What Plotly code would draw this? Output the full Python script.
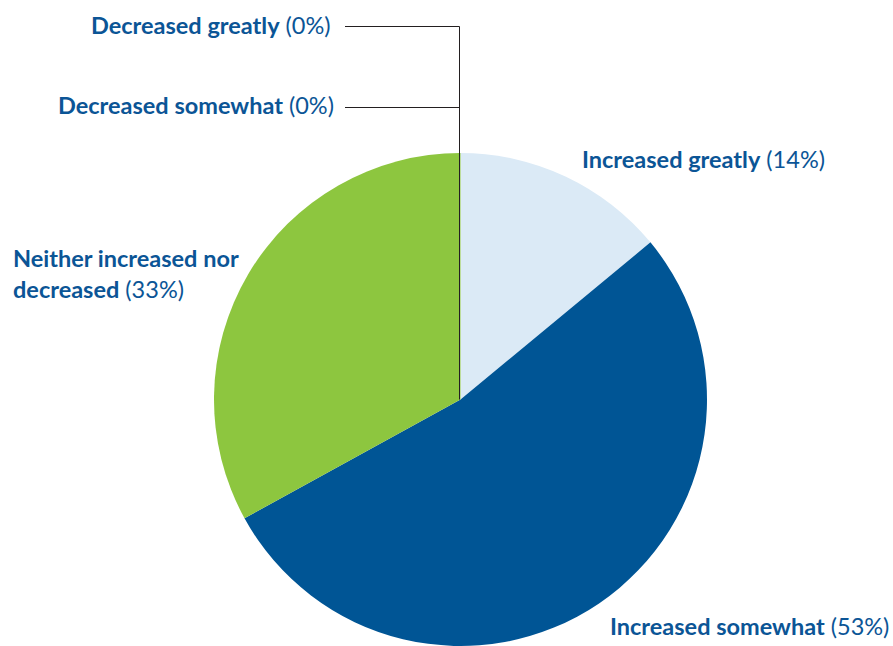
import plotly.graph_objects as go

# Survey responses, in drawing order (clockwise from 12 o'clock)
labels = ["Increased greatly", "Increased somewhat", "Neither increased nor decreased",
          "Decreased somewhat", "Decreased greatly"]
values = [14, 53, 33, 0, 0]
colors = ["#dbeaf6", "#005595", "#8dc63f", "#005595", "#005595"]

W, H = 893, 646
TEXT_COLOR = "#0b5596"
FONT = "Lato"
FONT_SIZE = 23.5

# Pie placement in pixels (top of pie and radius), converted to paper domain
cx_px, top_px, r_px = 460.5, 153, 246.5
dom_x = [(cx_px - r_px) / W, (cx_px + r_px) / W]
dom_y = [(H - (top_px + 2 * r_px)) / H, (H - top_px) / H]

fig = go.Figure(go.Pie(
    labels=labels,
    values=values,
    marker=dict(colors=colors, line=dict(width=0)),
    sort=False,
    direction="clockwise",
    rotation=0,
    textinfo="none",
    hoverinfo="label+percent",
    domain=dict(x=dom_x, y=dom_y),
))


def label_text(name, val, split_at=None):
    if split_at:
        first, rest = name[:split_at].rstrip(), name[split_at:].strip()
        return f"<b>{first}</b><br><b>{rest}</b> ({val}%)"
    return f"<b>{name}</b> ({val}%)"


def px(x, y):
    return x / W, 1 - y / H


# label anchor points (pixels) and alignment
placements = {
    "Increased greatly": (580, 159, "left"),
    "Increased somewhat": (608, 626, "left"),
    "Neither increased nor decreased": (11, 273, "left"),
    "Decreased somewhat": (336, 105, "right"),
    "Decreased greatly": (333, 25, "right"),
}

annotations = []
for name, val in zip(labels, values):
    x, y, anchor = placements[name]
    split = len("Neither increased nor") if name.startswith("Neither") else None
    ax, ay = px(x, y)
    annotations.append(dict(
        x=ax, y=ay, xref="paper", yref="paper",
        xanchor=anchor, yanchor="middle", align="left",
        text=label_text(name, val, split),
        showarrow=False,
        font=dict(family=FONT, size=FONT_SIZE, color=TEXT_COLOR),
    ))

# Leader lines for the zero-value slices, running up from the pie centre
# (offset by half a pixel so the 1px strokes stay crisp)
cx_paper = (dom_x[0] + dom_x[1]) / 2 - 1.0 / W
cy_paper = (dom_y[0] + dom_y[1]) / 2
top_y = px(0, 26.5)[1]
mid_y = px(0, 107.5)[1]
line_style = dict(color="#231f20", width=1)
shapes = [
    dict(type="line", xref="paper", yref="paper",
         x0=cx_paper, x1=cx_paper, y0=cy_paper, y1=top_y, line=line_style),
    dict(type="line", xref="paper", yref="paper",
         x0=px(345, 0)[0], x1=cx_paper, y0=top_y, y1=top_y, line=line_style),
    dict(type="line", xref="paper", yref="paper",
         x0=px(345, 0)[0], x1=cx_paper, y0=mid_y, y1=mid_y, line=line_style),
]

fig.update_layout(
    width=W, height=H,
    margin=dict(l=0, r=0, t=0, b=0),
    paper_bgcolor="white",
    plot_bgcolor="white",
    showlegend=False,
    annotations=annotations,
    shapes=shapes,
)

fig.write_html("out.html")
